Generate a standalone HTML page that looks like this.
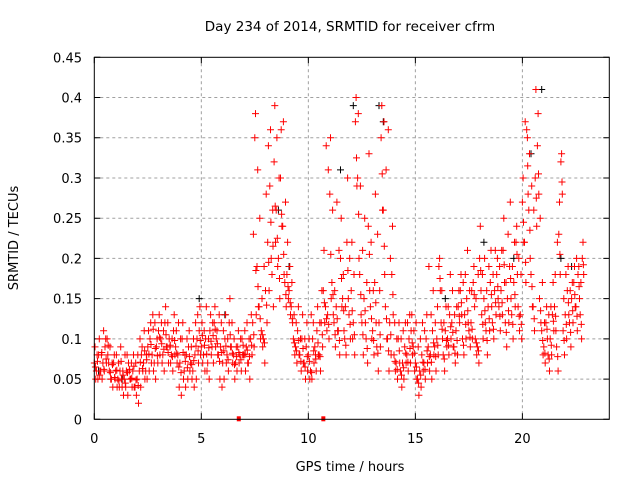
<!DOCTYPE html>
<html><head><meta charset="utf-8"><style>
body{margin:0;background:#fff}
svg{display:block;font-family:"DejaVu Sans","Liberation Sans",sans-serif}
</style></head><body>
<svg id="chart" width="640" height="480" viewBox="0 0 640 480">
<rect width="640" height="480" fill="#fff"/>
<text x="350" y="31" font-size="13.5" text-anchor="middle" fill="#000">Day 234 of 2014, SRMTID for receiver cfrm</text>
<text x="350" y="471" font-size="13" text-anchor="middle">GPS time / hours</text>
<text transform="translate(18,238) rotate(-90)" font-size="13" text-anchor="middle">SRMTID / TECUs</text>
<g id="grid"></g>
<g id="ticks"></g>
<g id="marks"></g>
<rect x="94.3" y="57.3" width="515" height="362" fill="none" stroke="#000" stroke-width="1"/>
</svg>
<script>
const xTicks=[0,5,10,15,20];
const yTicks=[0,0.05,0.1,0.15,0.2,0.25,0.3,0.35,0.4,0.45];
const yTickLabels=["0","0.05","0.1","0.15","0.2","0.25","0.3","0.35","0.4","0.45"];
const seriesA=[.07,.06,.08,.06,.07,.09,.10,.06,.05,.07,.06,.05,.06,.04,.05,.06,.07,.05,.06,.04,
.05,.06,.08,.07,.06,.09,.10,.08,.07,.09,.11,.10,.08,.12,.09,.10,.08,.11,.09,.08,
.07,.10,.06,.08,.09,.07,.06,.08,.10,.11,.09,.08,.10,.07,.11,.09,.12,.10,.08,.09,
.07,.10,.08,.12,.09,.08,.07,.09,.08,.10,.08,.09,.07,.10,.12,.35,.19,.14,.11,.10,
.16,.22,.29,.18,.32,.26,.20,.30,.24,.17,.18,.16,.14,.10,.09,.11,.08,.10,.07,.09,
.08,.06,.10,.09,.11,.08,.12,.16,.14,.13,.28,.17,.12,.14,.11,.20,.15,.10,.22,.13,
.16,.12,.37,.30,.18,.12,.15,.10,.24,.14,.11,.17,.09,.12,.35,.26,.14,.10,.12,.18,
.08,.07,.10,.06,.07,.09,.08,.10,.11,.09,.07,.05,.06,.08,.07,.10,.09,.08,.11,.09,
.10,.19,.12,.08,.11,.10,.13,.12,.09,.11,.14,.16,.10,.13,.15,.11,.12,.17,.10,.09,
.20,.13,.15,.11,.14,.17,.12,.16,.18,.14,.16,.21,.12,.15,.19,.13,.17,.22,.14,.13,
.27,.22,.36,.26,.18,.14,.30,.34,.15,.11,.09,.12,.08,.10,.13,.14,.09,.23,.32,.11,
.13,.16,.12,.15,.17,.14,.18,.13,.20];
const seriesB=[.09,.08,.10,.08,.11,.10,.08,.09,.07,.08,.08,.07,.09,.06,.08,.08,.06,.07,.08,.07,
.08,.10,.09,.11,.08,.11,.12,.13,.12,.10,.13,.12,.11,.14,.12,.09,.10,.13,.11,.12,
.10,.12,.08,.10,.11,.09,.10,.12,.13,.14,.12,.11,.14,.10,.13,.12,.14,.11,.13,.12,
.11,.13,.10,.15,.12,.10,.09,.11,.10,.08,.11,.12,.10,.13,.23,.38,.31,.25,.15,.19,
.28,.34,.36,.26,.39,.35,.30,.36,.37,.27,.22,.19,.17,.13,.12,.14,.10,.13,.10,.12,
.10,.13,.12,.08,.14,.12,.16,.21,.34,.31,.35,.26,.16,.27,.21,.25,.18,.14,.30,.20,
.22,.18,.40,.38,.29,.21,.25,.17,.33,.22,.16,.28,.23,.16,.39,.37,.31,.36,.20,.24,
.12,.10,.12,.10,.11,.12,.12,.13,.13,.11,.12,.09,.10,.12,.11,.13,.19,.13,.16,.12,
.14,.20,.16,.12,.14,.14,.18,.16,.13,.14,.16,.18,.17,.18,.21,.16,.16,.19,.15,.18,
.24,.18,.20,.16,.19,.21,.18,.21,.20,.19,.21,.25,.17,.23,.27,.19,.22,.24,.20,.18,
.30,.37,.35,.33,.29,.26,.41,.38,.25,.17,.12,.14,.13,.14,.17,.18,.22,.27,.33,.15,
.18,.19,.16,.17,.19,.20,.19,.17,.22];
const seriesC=[.05,.05,.06,.05,.06,.07,.07,.05,.04,.05,.04,.04,.05,.03,.04,.03,.05,.04,.04,.03,
.02,.04,.06,.05,.05,.06,.07,.06,.05,.07,.08,.07,.06,.09,.07,.07,.06,.08,.07,.04,
.03,.05,.04,.05,.06,.05,.04,.05,.07,.08,.07,.06,.06,.05,.08,.07,.09,.08,.05,.04,
.05,.07,.06,.09,.07,.05,.06,.07,.06,.08,.06,.07,.05,.08,.09,.13,.14,.10,.09,.07,
.12,.16,.20,.14,.22,.19,.15,.24,.18,.14,.15,.13,.12,.08,.07,.08,.06,.07,.05,.06,
.05,.05,.07,.06,.08,.06,.09,.12,.11,.10,.15,.13,.09,.11,.08,.14,.11,.08,.15,.10,
.10,.08,.29,.20,.13,.08,.12,.07,.16,.10,.08,.12,.06,.09,.26,.18,.10,.06,.08,.13,
.06,.05,.07,.04,.05,.07,.06,.07,.08,.06,.05,.03,.04,.06,.05,.07,.06,.05,.08,.06,
.08,.16,.10,.06,.09,.08,.10,.09,.07,.08,.12,.13,.08,.10,.12,.09,.10,.14,.08,.07,
.16,.10,.12,.08,.11,.14,.10,.13,.15,.11,.13,.17,.09,.12,.15,.10,.14,.18,.11,.10,
.22,.17,.28,.20,.14,.11,.24,.28,.12,.08,.07,.10,.06,.08,.11,.11,.06,.18,.28,.08,
.10,.13,.09,.12,.14,.11,.15,.10,.18];
const seriesD=[.065,.072,.055,.083,.062,.075,.092,.058,.068,.052,.061,.048,.072,.055,.045,.058,.062,.051,.066,.049,
.042,.071,.063,.085,.074,.081,.093,.112,.088,.079,.102,.094,.087,.105,.083,.092,.078,.098,.082,.065,
.058,.083,.072,.064,.078,.068,.073,.091,.085,.098,.104,.092,.081,.089,.097,.104,.112,.094,.072,.083,
.085,.091,.074,.105,.082,.068,.078,.083,.074,.092,.081,.086,.078,.092,.105,.185,.165,.125,.105,.095,
.142,.195,.245,.215,.265,.225,.175,.255,.205,.155,.165,.145,.125,.095,.085,.098,.072,.088,.065,.078,
.072,.058,.085,.075,.095,.078,.105,.145,.125,.118,.205,.155,.105,.125,.098,.175,.135,.092,.185,.118,
.135,.105,.325,.255,.155,.105,.135,.088,.205,.125,.098,.145,.082,.105,.305,.215,.125,.085,.105,.155,
.072,.062,.085,.055,.064,.082,.071,.088,.095,.082,.065,.045,.055,.071,.062,.085,.078,.071,.095,.078,
.092,.175,.112,.075,.098,.092,.115,.108,.082,.098,.128,.145,.092,.118,.135,.102,.112,.155,.095,.085,
.185,.118,.135,.098,.125,.155,.112,.145,.165,.128,.145,.192,.108,.135,.175,.118,.155,.205,.128,.118,
.245,.195,.315,.235,.165,.125,.275,.305,.135,.098,.082,.112,.075,.092,.122,.128,.078,.205,.295,.098,
.118,.145,.108,.135,.155,.128,.165,.118,.192];
const blackHours=[0.2,1.3,4.9,6.1,8.6,9.1,11.5,12.1,13.3,13.5,16.4,18.2,19.6,20.4,20.9,21.8,22.3];
const blackValues=[.06,.05,.15,.13,.26,.19,.31,.39,.39,.37,.15,.22,.20,.33,.41,.20,.19];
const gapMarkerHours=[6.75,10.7];
const stepHours=0.1, seriesOffsets=[0,0.033,0.066,0.05];

const L=94.3,R=609.3,T=57.3,B=419.3,XMAX=24.06,YMAX=0.45;
const xs=v=>L+v/XMAX*(R-L), ys=v=>B-v/YMAX*(B-T);
const NS="http://www.w3.org/2000/svg";
function mk(tag,attrs,parent){const e=document.createElementNS(NS,tag);for(const k in attrs)e.setAttribute(k,attrs[k]);parent.appendChild(e);return e;}
const grid=document.getElementById('grid'),ticks=document.getElementById('ticks'),marks=document.getElementById('marks');
xTicks.forEach((t,i)=>{const x=xs(t);
 if(t>0){const g=mk('line',{x1:x,x2:x,y1:T,y2:B,stroke:'#a0a0a0','stroke-dasharray':'3,3'},grid);
 
 }
 const a=mk('path',{d:`M${x},${B}v-6M${x},${T}v6`,stroke:'#000'},ticks);
 
 
 const tx=mk('text',{x:x,y:443,'font-size':13,'text-anchor':'middle'},ticks);tx.textContent=String(t);
 
 
});
yTicks.forEach((t,i)=>{const y=ys(t);
 if(t>0&&t<YMAX){const g=mk('line',{x1:L,x2:R,y1:y,y2:y,stroke:'#a0a0a0','stroke-dasharray':'3,3'},grid);
 
 }
 const a=mk('path',{d:`M${L},${y}h6M${R},${y}h-6`,stroke:'#000'},ticks);
 
 
 const tx=mk('text',{x:82,y:y+5,'font-size':13,'text-anchor':'end'},ticks);tx.textContent=yTickLabels[i];
 
 
});
function cross(h,v,color){const x=xs(h),y=ys(v);
 const p=mk('path',{d:`M${(x-3.5).toFixed(1)},${y.toFixed(1)}h7M${x.toFixed(1)},${(y-3.5).toFixed(1)}v7`,stroke:color,'stroke-width':1,fill:'none'},marks);
 return p;}
blackValues.forEach((v,i)=>{const p=cross(blackHours[i],v,'#000');
 
 });
[seriesA,seriesB,seriesC,seriesD].forEach((s,si)=>{s.forEach((v,i)=>{const p=cross(i*stepHours+seriesOffsets[si],v,'#f00');
 
 });});
gapMarkerHours.forEach(h=>{const r=mk('rect',{x:xs(h)-2,y:B-3,width:4,height:5,fill:'#f00'},marks);
 
 });
</script>
</body></html>
